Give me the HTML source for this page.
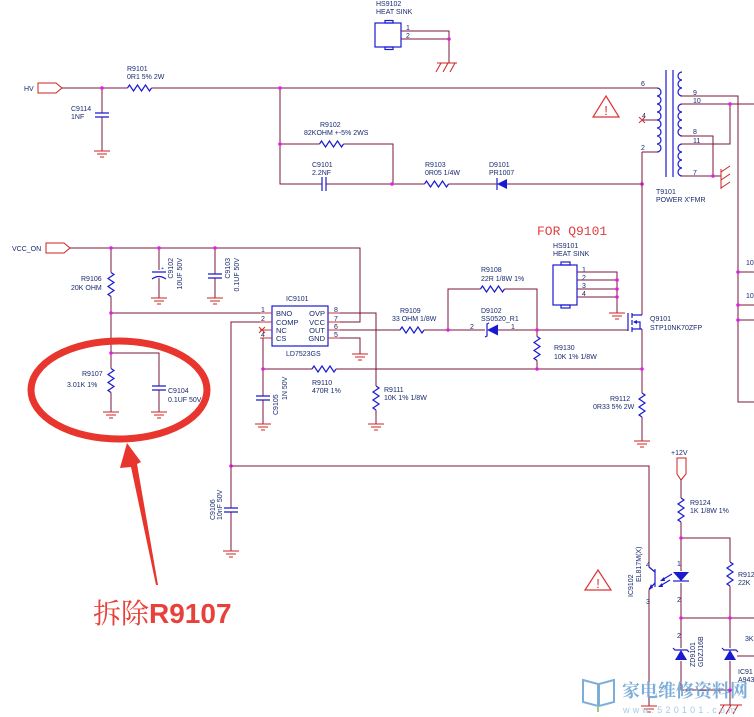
<!DOCTYPE html>
<html><head><meta charset="utf-8"><style>
html,body{margin:0;padding:0;background:#fff;}
svg{display:block;}
.w{stroke:#7a1a3c;stroke-width:1;fill:none;}
.b{stroke:#1a1ad0;stroke-width:1.2;fill:none;}
.p{stroke:#cc3333;stroke-width:1;fill:none;}
.t{font-family:"Liberation Sans",sans-serif;font-size:7px;fill:#1a2a70;}
.tb{font-family:"Liberation Sans",sans-serif;font-size:7.5px;fill:#1a2a70;}
</style></head><body>
<svg width="754" height="717" viewBox="0 0 754 717" xmlns="http://www.w3.org/2000/svg">
<defs>
<g id="rh"><rect x="-12" y="-1.5" width="24" height="3" fill="#fff"/><polyline class="b" points="-12,0 -10,-3 -6,3 -2,-3 2,3 6,-3 10,3 12,0"/></g>
<g id="rv"><rect x="-1.5" y="-12" width="3" height="24" fill="#fff"/><polyline class="b" points="0,-12 3,-10 -3,-6 3,-2 -3,2 3,6 -3,10 0,12"/></g>
<g id="cv"><rect x="-7" y="-2" width="14" height="4" fill="#fff"/><path class="b" d="M-7,-2H7M-7,2H7"/></g>
<g id="ch"><rect x="-2" y="-7" width="4" height="14" fill="#fff"/><path class="b" d="M-2,-7V7M2,-7V7"/></g>
<g id="gnd"><path d="M-8,0H8M-5,3H5M-2,6H2" stroke="#cc2222" stroke-width="1.1" fill="none"/></g>
<circle id="j" r="1.8" fill="#e020e0"/>
</defs>

<!-- HV section -->
<polygon points="38,83 56,83 62,88 56,93 38,93" fill="none" stroke="#cc2222" stroke-width="1"/>
<text class="t" x="24" y="91">HV</text>
<path class="w" d="M62,88H657M102,88V151"/>
<use href="#j" x="102" y="88"/>
<use href="#rh" x="139.5" y="88"/>
<use href="#cv" x="102" y="115"/>
<use href="#gnd" x="102" y="151"/>
<text class="t" x="127" y="71">R9101</text><text class="t" x="127" y="79">0R1 5% 2W</text>
<text class="t" x="71" y="111">C9114</text><text class="t" x="71" y="119">1NF</text>

<!-- HS9102 -->
<text class="t" x="376" y="6">HS9102</text><text class="t" x="376" y="14">HEAT SINK</text>
<rect x="375" y="23" width="26" height="24" class="b"/>
<rect x="385" y="20.5" width="8" height="2.5" class="b"/>
<rect x="385" y="47" width="8" height="2.5" class="b"/>
<path class="w" d="M401,31H449V63M401,39H449"/>
<use href="#j" x="449" y="39"/>
<text class="t" x="406" y="30">1</text><text class="t" x="406" y="38">2</text>
<path d="M437,63H457M441,63L436,72M448,63L443,72M455,63L450,72" stroke="#cc2222" stroke-width="1" fill="none"/>

<!-- R9102 / C9101 / R9103 / D9101 -->
<path class="w" d="M280,88V184H497M280,144H393V184M506,184H642"/>
<use href="#j" x="280" y="88"/><use href="#j" x="280" y="144"/><use href="#j" x="392" y="184"/><use href="#j" x="642" y="184"/>
<use href="#rh" x="331.5" y="144"/>
<use href="#ch" x="324" y="184"/>
<use href="#rh" x="436.5" y="184"/>
<polygon points="497,184 507,179 507,189" fill="#1a1ad0"/><path class="b" d="M497,178V190"/>
<text class="t" x="320" y="127">R9102</text><text class="t" x="304" y="135">82KOHM +-5% 2WS</text>
<text class="t" x="312" y="167">C9101</text><text class="t" x="312" y="175">2.2NF</text>
<text class="t" x="425" y="167">R9103</text><text class="t" x="425" y="175">0R05 1/4W</text>
<text class="t" x="489" y="167">D9101</text><text class="t" x="489" y="175">PR1007</text>

<!-- Warning triangles -->
<polygon points="606,96 619,117 593,117" fill="none" stroke="#dd3333" stroke-width="1.2"/>
<text x="606" y="115" font-family="Liberation Sans,sans-serif" font-size="13" fill="#dd3333" text-anchor="middle">!</text>
<polygon points="598,570 611,590 585,590" fill="none" stroke="#dd3333" stroke-width="1.2"/>
<text x="598" y="588" font-family="Liberation Sans,sans-serif" font-size="13" fill="#dd3333" text-anchor="middle">!</text>

<!-- Transformer -->
<path class="b" d="M657,88a4,4 0 0 1 0,8a4,4 0 0 1 0,8a4,4 0 0 1 0,8a4,4 0 0 1 0,8a4,4 0 0 1 0,8a4,4 0 0 1 0,8a4,4 0 0 1 0,8a4,4 0 0 1 0,8"/>
<path class="b" d="M666,70V177M673,70V177"/>
<path class="b" d="M682,72a4,4 0 0 0 0,8a4,4 0 0 0 0,8a4,4 0 0 0 0,8"/>
<path class="b" d="M682,104a4,4 0 0 0 0,8a4,4 0 0 0 0,8a4,4 0 0 0 0,8a4,4 0 0 0 0,8"/>
<path class="b" d="M682,144a4,4 0 0 0 0,8a4,4 0 0 0 0,8a4,4 0 0 0 0,8a4,4 0 0 0 0,8"/>
<path class="w" d="M642,120H657M642,152H657"/>
<path d="M639,117L645,123M645,117L639,123" stroke="#cc3333" stroke-width="1"/>
<text class="t" x="641" y="86">6</text><text class="t" x="642" y="118">4</text><text class="t" x="641" y="150">2</text>
<path class="w" d="M682,96H738V402H754M682,104H754M682,136H713V176M682,144H730V104M682,176H721"/>
<use href="#j" x="730" y="104"/><use href="#j" x="713" y="176"/>
<path d="M721,169V189M721,172L730,166M721,180L730,174M721,188L730,182" stroke="#cc2222" stroke-width="1" fill="none"/>
<text class="t" x="693" y="95">9</text><text class="t" x="693" y="103">10</text><text class="t" x="693" y="134">8</text><text class="t" x="693" y="143">11</text><text class="t" x="693" y="175">7</text>
<text class="t" x="656" y="194">T9101</text><text class="t" x="656" y="202">POWER X'FMR</text>
<path class="w" d="M738,272H754M738,305H754M738,320H754"/>
<use href="#j" x="738" y="272"/><use href="#j" x="738" y="305"/><use href="#j" x="738" y="320"/>
<text class="t" x="746" y="265">10</text><text class="t" x="746" y="298">10</text>

<text x="537" y="235" font-family="Liberation Mono,monospace" font-size="13" fill="#e04040">FOR Q9101</text>

<!-- VCC_ON section -->
<polygon points="46,243 64,243 70,248 64,253 46,253" fill="none" stroke="#cc2222" stroke-width="1"/>
<text class="t" x="12" y="251">VCC_ON</text>
<path class="w" d="M70,248H360V322H340M111,248V412M159,248V298M215,248V298M111,313H260M111,353H159V412"/>
<use href="#j" x="111" y="248"/><use href="#j" x="159" y="248"/><use href="#j" x="215" y="248"/><use href="#j" x="111" y="313"/><use href="#j" x="111" y="353"/>
<use href="#rv" x="111" y="284.5"/>
<rect x="152" y="270" width="14" height="8" fill="#fff"/>
<path class="b" d="M152,272H166M152,279Q159,274 166,279"/>
<text x="161" y="270" font-size="5" fill="#1a1ad0" font-family="Liberation Sans,sans-serif">+</text>
<use href="#cv" x="215" y="276"/>
<use href="#gnd" x="159" y="298"/><use href="#gnd" x="215" y="298"/>
<text class="t" x="81" y="281">R9106</text><text class="t" x="71" y="290">20K OHM</text>
<text class="t" transform="translate(173,258) rotate(-90)" text-anchor="end">C9102</text>
<text class="t" transform="translate(182,258) rotate(-90)" text-anchor="end">10UF 50V</text>
<text class="t" transform="translate(230,258) rotate(-90)" text-anchor="end">C9103</text>
<text class="t" transform="translate(239,258) rotate(-90)" text-anchor="end">0.1UF 50V</text>
<use href="#rv" x="111" y="380.5"/>
<use href="#cv" x="159" y="388"/>
<use href="#gnd" x="111" y="412"/><use href="#gnd" x="159" y="412"/>
<text class="t" x="82" y="376">R9107</text><text class="t" x="67" y="387">3.01K 1%</text>
<text class="t" x="168" y="393">C9104</text><text class="t" x="168" y="402">0.1UF 50V</text>

<!-- IC9101 -->
<rect x="272" y="306" width="56" height="40" class="b"/>
<text class="t" x="286" y="301">IC9101</text><text class="t" x="286" y="356">LD7523GS</text>
<text class="tb" x="276" y="316">BNO</text><text class="tb" x="276" y="325">COMP</text><text class="tb" x="276" y="333">NC</text><text class="tb" x="276" y="341">CS</text>
<text class="tb" x="325" y="316" text-anchor="end">OVP</text><text class="tb" x="325" y="325" text-anchor="end">VCC</text><text class="tb" x="325" y="333" text-anchor="end">OUT</text><text class="tb" x="325" y="341" text-anchor="end">GND</text>
<path class="p" d="M260,313H272M260,322H272M260,330H272M260,338H272M328,313H340M328,322H340M328,330H340M328,338H340"/>
<text class="t" x="261" y="312">1</text><text class="t" x="261" y="321">2</text><text class="t" x="261" y="337">4</text>
<path d="M259,327L265,333M265,327L259,333" stroke="#cc3333" stroke-width="1"/>
<text class="t" x="334" y="312">8</text><text class="t" x="334" y="321">7</text><text class="t" x="334" y="329">6</text><text class="t" x="334" y="337">5</text>
<path class="w" d="M260,322H231V551M263,338V424M263,369H642M340,313H376V424M340,330H628M340,338H360V354"/>
<use href="#j" x="263" y="369"/><use href="#j" x="231" y="466"/>
<use href="#cv" x="263" y="398"/>
<use href="#gnd" x="263" y="424"/><use href="#gnd" x="376" y="424"/><use href="#gnd" x="360" y="354"/>
<text class="t" transform="translate(278,415) rotate(-90)">C9105</text>
<text class="t" transform="translate(287,400) rotate(-90)">1N 50V</text>
<use href="#rh" x="324" y="369"/>
<text class="t" x="312" y="385">R9110</text><text class="t" x="312" y="393">470R 1%</text>
<use href="#rv" x="376" y="398"/>
<text class="t" x="384" y="392">R9111</text><text class="t" x="384" y="400">10K 1% 1/8W</text>

<!-- R9109 / R9108 / D9102 / R9130 -->
<use href="#rh" x="412" y="330"/>
<text class="t" x="400" y="313">R9109</text><text class="t" x="392" y="321">33 OHM 1/8W</text>
<path class="w" d="M448,330V289H537V369"/>
<use href="#j" x="448" y="330"/><use href="#j" x="537" y="330"/><use href="#j" x="537" y="369"/>
<use href="#rh" x="492.5" y="289"/>
<text class="t" x="481" y="272">R9108</text><text class="t" x="481" y="281">22R 1/8W 1%</text>
<rect x="485" y="324" width="13" height="12" fill="#fff"/>
<polygon points="487,330 498,324.5 498,335.5" fill="#1a1ad0"/><path class="b" d="M489,323L487,324V336L485,337"/>
<text class="t" x="481" y="313">D9102</text><text class="t" x="481" y="321">SS0520_R1</text>
<text class="t" x="470" y="329">2</text><text class="t" x="511" y="329">1</text>
<use href="#rv" x="537" y="348.5"/>
<text class="t" x="554" y="350">R9130</text><text class="t" x="554" y="359">10K 1% 1/8W</text>

<!-- HS9101 -->
<text class="t" x="553" y="248">HS9101</text><text class="t" x="553" y="256">HEAT SINK</text>
<rect x="553" y="265" width="24" height="40" class="b"/>
<rect x="561" y="262" width="9" height="3" class="b"/>
<rect x="561" y="305" width="9" height="3" class="b"/>
<path class="w" d="M577,272H617V313M577,280H617M577,289H617M577,297H617"/>
<use href="#j" x="617" y="280"/><use href="#j" x="617" y="289"/><use href="#j" x="617" y="297"/>
<use href="#gnd" x="617" y="313"/>
<text class="t" x="582" y="272">1</text><text class="t" x="582" y="280">2</text><text class="t" x="582" y="288">3</text><text class="t" x="582" y="296">4</text>

<!-- Q9101 -->
<path class="w" d="M642,152V315M642,329V441"/>
<path class="b" d="M628,313V331M632,313V318M632,320V325M632,327V332M632,315H642M632,329H642M634,322H640V329"/>
<polygon points="633,322 637,320 637,324" fill="#1a1ad0"/>
<use href="#j" x="642" y="369"/>
<text class="t" x="650" y="321">Q9101</text><text class="t" x="650" y="330">STP10NK70ZFP</text>
<use href="#rv" x="642" y="405"/>
<use href="#gnd" x="642" y="441"/>
<text class="t" x="610" y="401">R9112</text><text class="t" x="593" y="409">0R33 5% 2W</text>

<!-- C9106 and opto -->
<use href="#cv" x="231" y="510"/>
<use href="#gnd" x="231" y="551"/>
<text class="t" transform="translate(215,520) rotate(-90)">C9106</text>
<text class="t" transform="translate(222,520) rotate(-90)">10nF 50V</text>
<path class="w" d="M231,466H649V567L655,572M655,583L649,590V706"/>
<path class="b" d="M655,569V587M649,567L655,572M655,583L649,589"/>
<polygon points="649,589 651,584 653,588" fill="#1a1ad0"/>
<path class="b" d="M672,574L662,580M670,580L660,586" stroke-width="0.9"/>
<polygon points="660,581 664,577 665,581" fill="#1a1ad0"/><polygon points="658,587 662,583 663,587" fill="#1a1ad0"/>
<use href="#gnd" x="649" y="706"/>
<text class="t" transform="translate(633,597) rotate(-90)">IC9102</text>
<text class="t" transform="translate(641,582) rotate(-90)">EL817M(X)</text>
<text class="t" x="646" y="567">4</text><text class="t" x="646" y="604">3</text>

<!-- +12V section -->
<text class="t" x="671" y="455">+12V</text>
<polygon points="677,458 686,458 686,474 681,480 677,474" fill="none" stroke="#cc2222" stroke-width="1"/>
<path class="w" d="M681,480V690H730V618M681,538H730V690M681,618H754M730,656H754"/>
<use href="#rv" x="681" y="510"/>
<text class="t" x="690" y="505">R9124</text><text class="t" x="690" y="513">1K 1/8W 1%</text>
<use href="#j" x="681" y="538"/><use href="#j" x="681" y="618"/><use href="#j" x="730" y="618"/><use href="#j" x="730" y="690"/>
<rect x="673" y="571" width="16" height="12" fill="#fff"/>
<polygon points="673,572 689,572 681,581" fill="#1a1ad0"/><path class="b" d="M673,581H689"/>
<text class="t" x="677" y="566">1</text><text class="t" x="677" y="602">2</text><text class="t" x="677" y="638">2</text>
<use href="#rv" x="730" y="574"/>
<text class="t" x="738" y="577">R912</text><text class="t" x="738" y="585">22K</text>
<rect x="674" y="648" width="14" height="13" fill="#fff"/>
<polygon points="681,650 675,660 687,660" fill="#1a1ad0"/><path class="b" d="M673,648L675,650H687L689,652"/>
<text class="t" transform="translate(695,667) rotate(-90)">ZD9101</text>
<text class="t" transform="translate(703,667) rotate(-90)">GDZJ16B</text>
<rect x="723" y="648" width="14" height="13" fill="#fff"/>
<polygon points="730,650 724,660 736,660" fill="#1a1ad0"/><path class="b" d="M722,648L724,650H736L738,652"/>
<text class="t" x="745" y="641">3K</text>
<text class="t" x="738" y="674">IC91</text><text class="t" x="738" y="682">A943</text>
<path d="M720,705H742M724,705L719,714M731,705L726,714M738,705L733,714" stroke="#cc2222" stroke-width="1" fill="none"/>
<path class="w" d="M730,690V705"/>

<!-- Red annotation -->
<ellipse cx="119" cy="390" rx="88" ry="49" fill="none" stroke="#e8352d" stroke-width="7"/>
<polygon points="127,443 141,462 137,464 158,585 156,585 131,467 120,468" fill="#e8352d"/>
<text x="93" y="623" font-size="28" fill="#e8403a"><tspan font-family="Liberation Serif,'Noto Serif CJK SC',serif">拆除</tspan><tspan font-family="Liberation Sans,sans-serif" font-weight="bold">R9107</tspan></text>

<!-- Watermark -->
<g opacity="0.9">
<path d="M583,680L598,684V706L583,702Z M614,680L599,684V706L614,702Z" fill="none" stroke="#6fa6d6" stroke-width="2"/>
<path d="M598,706V712" stroke="#8cc870" stroke-width="2"/>
<text x="622" y="697" font-family="'Noto Serif CJK SC',serif" font-size="18" font-weight="bold" fill="#6fa6d6">家电维修资料网</text>
<text x="623" y="713" font-family="Liberation Sans,sans-serif" font-size="9" fill="#9cc4e4" letter-spacing="3.2">www.520101.com</text>
</g>
</svg>
</body></html>
